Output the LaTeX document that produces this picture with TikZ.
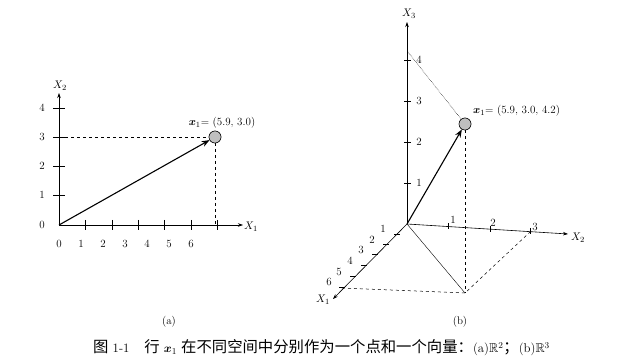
\documentclass[tikz,border=0pt]{standalone}
\usepackage{amsmath,amssymb,bm}
\usepackage{fontspec}
\newfontfamily\cjk[Scale=1.2]{Noto Sans CJK SC}
\usetikzlibrary{arrows.meta}
\begin{document}
\begin{tikzpicture}[x=1pt,y=-1pt,
  axis/.style={line width=0.6pt,-{Stealth[length=5pt,width=3.5pt]}},
  vec/.style={line width=1.1pt,-{Stealth[length=8pt,width=6pt]}},
  guide/.style={dashed,line width=0.5pt},
  thin guide/.style={densely dotted,line width=0.5pt},
  tick/.style={line width=0.6pt},
  lbl/.style={font=\fontsize{11}{13}\selectfont,inner sep=0pt},
  pt/.style={circle,draw,fill=gray!50,minimum size=12pt,inner sep=0pt,line width=0.5pt}]
\useasboundingbox (0,0) rectangle (618,363);
% ---------- panel (a) ----------
\coordinate (Oa) at (59,225);
\coordinate (Xa) at (243,225);
\coordinate (Ya) at (59,93);
\node[pt] (Pa) at (215,137) {};
\coordinate (Pax) at (215,225);
\coordinate (Pay) at (59,137);
\draw[guide] (Pay) -- (Pa.center) -- (Pax);
\draw[axis] (Oa) -- (Xa);
\draw[axis] (Oa) -- (Ya);
\foreach \x in {85,112,138,164,191,217} \draw[tick] (\x,220) -- (\x,230);
\foreach \y in {108,137,166,195} \draw[tick] (53,\y) -- (65,\y);
\foreach \l/\x in {0/59,1/81,2/103,3/125,4/147,5/169,6/191} \node[lbl] at (\x,244) {\l};
\foreach \l/\y in {0/225,1/195,2/166,3/137,4/108} \node[lbl] at (42,\y) {\l};
\node[lbl] (X1a) at (251,227) {$X_1$};
\node[lbl] (X2a) at (60,86) {$X_2$};
\node[pt] at (215,137) {};
\draw[vec] (Oa) -- (Pa);
\node[lbl] (La) at (222,123) {$\bm{x}_1$= (5.9, 3.0)};
\node[lbl] (capa) at (169,322) {(a)};
% ---------- panel (b) ----------
\coordinate (Ob) at (407,224);
\coordinate (Zb) at (407,22);
\coordinate (X2b) at (568,234);
\coordinate (X1b) at (333,299);
\coordinate (Z4) at (408,52);
\coordinate (Bot) at (465,293);
\coordinate (T6) at (342,288);
\coordinate (T3) at (530,232);
\node[pt] (Pb) at (465,124) {};
\draw[thin guide] (Z4) -- (Pb.center);
\draw[guide] (Pb.center) -- (Bot);
\draw[line width=0.4pt] (Ob) -- (Bot);
\draw[guide] (T6) -- (Bot) -- (T3);
\draw[axis] (Ob) -- (Zb);
\draw[axis] (Ob) -- (X2b);
\draw[axis] (Ob) -- (X1b);
\foreach \y in {183,142,101,60} \draw[tick] (404,\y) -- (411,\y);
\foreach \l/\y in {1/183,2/142,3/101,4/60} \node[lbl] at (419,\y) {\l};
\foreach \x/\y in {448/226.5,490/229,530/231.5} \draw[tick] (\x,\y-3) -- (\x,\y+3);
\foreach \l/\x/\y in {1/453/220,2/493/223,3/535/227} \node[lbl] at (\x,\y) {\l};
\foreach \x/\y in {397/234,386/244,375/254,364/265,353/276,342/287} \draw[tick] (\x-3,\y) -- (\x+3,\y);
\foreach \l/\x/\y in {1/383/229,2/372/240,3/361/250,4/350/261,5/339/272,6/329/282} \node[lbl] at (\x,\y) {\l};
\node[lbl] (X3l) at (409,14) {$X_3$};
\node[lbl] (X2l) at (578,238) {$X_2$};
\node[lbl] (X1l) at (323,300) {$X_1$};
\node[pt] at (465,124) {};
\draw[vec] (Ob) -- (Pb);
\node[lbl,anchor=west] (Lb) at (473,111) {$\bm{x}_1$= (5.9, 3.0, 4.2)};
\node[lbl] (capb) at (460,322) {(b)};
% ---------- caption ----------
\node[font=\fontsize{12.8}{15}\selectfont,inner sep=0pt,anchor=west] (cap) at (93,348)
  {{\cjk 图}~1-1\hspace{15pt}{\cjk 行}~$\bm{x}_1$~{\cjk 在不同空间中分别作为一个点和一个向量：}(a)$\mathbb{R}^2${\cjk ；}(b)$\mathbb{R}^3$};
\end{tikzpicture}
\end{document}
